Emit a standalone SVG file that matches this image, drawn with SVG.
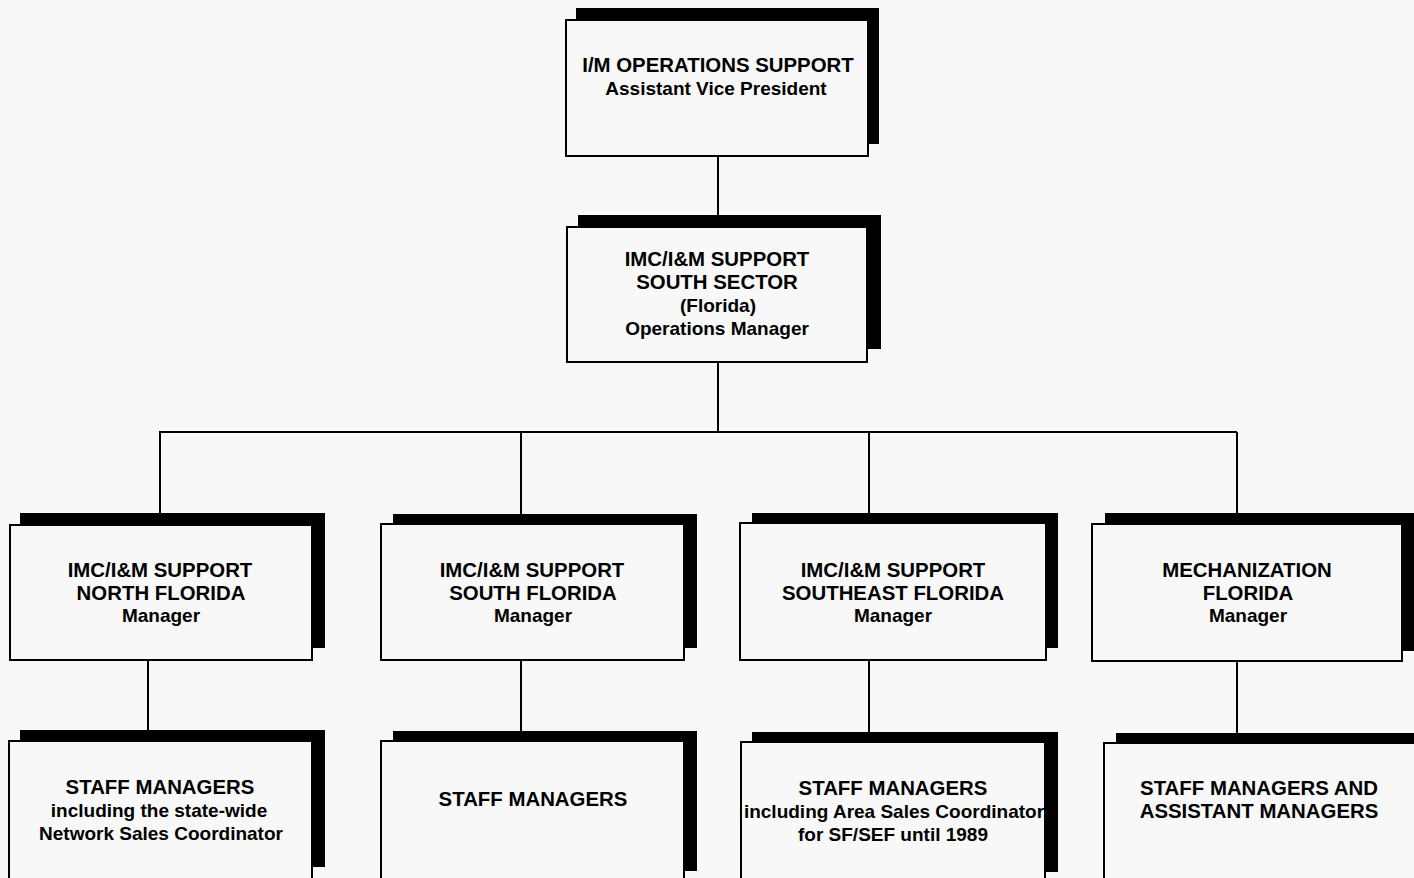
<svg xmlns="http://www.w3.org/2000/svg" width="1414" height="878" viewBox="0 0 1414 878">
  <style>
    .shadow { fill: #000; }
    .box { fill: #f8f8f8; stroke: #000; stroke-width: 2; }
    .lbl { font-family: "Liberation Sans", Arial, sans-serif; font-weight: bold; font-size: 20.4px; fill: #000; text-anchor: middle; }
    .sub { font-size: 19px; }
    .wire { fill: none; stroke: #000; stroke-width: 2; }
  </style>
  <rect width="1414" height="878" fill="#f8f8f8"/>

  <!-- connectors -->
  <g id="connectors" class="wire">
    <line x1="718" y1="156" x2="718" y2="227"/>
    <line x1="718" y1="362" x2="718" y2="432"/>
    <line x1="159" y1="432" x2="1237" y2="432"/>
    <line x1="160" y1="432" x2="160" y2="514"/>
    <line x1="521" y1="432" x2="521" y2="514"/>
    <line x1="869" y1="432" x2="869" y2="514"/>
    <line x1="1237" y1="432" x2="1237" y2="514"/>
    <line x1="148" y1="660" x2="148" y2="731"/>
    <line x1="521" y1="660" x2="521" y2="731"/>
    <line x1="869" y1="660" x2="869" y2="732"/>
    <line x1="1237" y1="661" x2="1237" y2="733"/>
  </g>

  <!-- top -->
  <g id="avp">
    <rect class="shadow" x="576" y="8" width="303" height="136"/>
    <rect class="box" x="566" y="20" width="302" height="136"/>
    <text class="lbl" x="718" y="72">I/M OPERATIONS SUPPORT</text>
    <text class="lbl sub" x="716" y="95">Assistant Vice President</text>
  </g>

  <g id="ops-manager">
    <rect class="shadow" x="578" y="215" width="303" height="134"/>
    <rect class="box" x="567" y="227" width="300" height="135"/>
    <text class="lbl" x="717" y="266">IMC/I&amp;M SUPPORT</text>
    <text class="lbl" x="717" y="289">SOUTH SECTOR</text>
    <text class="lbl sub" x="718" y="312">(Florida)</text>
    <text class="lbl sub" x="717" y="335">Operations Manager</text>
  </g>

  <!-- managers -->
  <g id="north-florida">
    <rect class="shadow" x="20" y="513" width="305" height="135"/>
    <rect class="box" x="10" y="525" width="302" height="135"/>
    <text class="lbl" x="160" y="577">IMC/I&amp;M SUPPORT</text>
    <text class="lbl" x="161" y="600">NORTH FLORIDA</text>
    <text class="lbl sub" x="161" y="622">Manager</text>
  </g>

  <g id="south-florida">
    <rect class="shadow" x="393" y="514" width="304" height="134"/>
    <rect class="box" x="381" y="524" width="303" height="136"/>
    <text class="lbl" x="532" y="577">IMC/I&amp;M SUPPORT</text>
    <text class="lbl" x="533" y="600">SOUTH FLORIDA</text>
    <text class="lbl sub" x="533" y="622">Manager</text>
  </g>

  <g id="southeast-florida">
    <rect class="shadow" x="752" y="513" width="306" height="135"/>
    <rect class="box" x="740" y="523" width="306" height="137"/>
    <text class="lbl" x="893" y="577">IMC/I&amp;M SUPPORT</text>
    <text class="lbl" x="893" y="600">SOUTHEAST FLORIDA</text>
    <text class="lbl sub" x="893" y="622">Manager</text>
  </g>

  <g id="mechanization">
    <rect class="shadow" x="1105" y="513" width="310" height="138"/>
    <rect class="box" x="1092" y="524" width="310" height="137"/>
    <text class="lbl" x="1247" y="577">MECHANIZATION</text>
    <text class="lbl" x="1248" y="600">FLORIDA</text>
    <text class="lbl sub" x="1248" y="622">Manager</text>
  </g>

  <!-- staff -->
  <g id="staff-north">
    <rect class="shadow" x="20" y="730" width="305" height="137"/>
    <rect class="box" x="9" y="741" width="303" height="140"/>
    <text class="lbl" x="160" y="794">STAFF MANAGERS</text>
    <text class="lbl sub" x="159" y="817">including the state-wide</text>
    <text class="lbl sub" x="161" y="840">Network Sales Coordinator</text>
  </g>

  <g id="staff-south">
    <rect class="shadow" x="393" y="731" width="304" height="140"/>
    <rect class="box" x="381" y="741" width="303" height="140"/>
    <text class="lbl" x="533" y="806">STAFF MANAGERS</text>
  </g>

  <g id="staff-southeast">
    <rect class="shadow" x="752" y="732" width="306" height="140"/>
    <rect class="box" x="741" y="742" width="304" height="140"/>
    <text class="lbl" x="893" y="795">STAFF MANAGERS</text>
    <text class="lbl sub" x="894" y="818">including Area Sales Coordinator</text>
    <text class="lbl sub" x="893" y="841">for SF/SEF until 1989</text>
  </g>

  <g id="staff-mechanization">
    <rect class="shadow" x="1116" y="733" width="310" height="140"/>
    <rect class="box" x="1104" y="743" width="320" height="140"/>
    <text class="lbl" x="1259" y="795">STAFF MANAGERS AND</text>
    <text class="lbl" x="1259" y="818">ASSISTANT MANAGERS</text>
  </g>
</svg>
